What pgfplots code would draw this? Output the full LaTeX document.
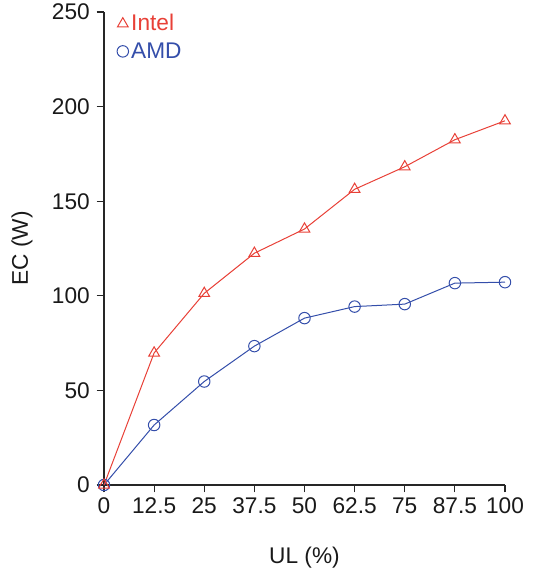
\documentclass[border=0pt]{standalone}
\usepackage{fontspec}
\setmainfont{Liberation Sans}
\usepackage{pgfplots}
\pgfplotsset{compat=1.18}
\definecolor{intelred}{RGB}{232,64,55}
\definecolor{amdblue}{RGB}{52,78,170}
\newcommand{\fs}{\fontsize{17}{20}\selectfont}
\begin{document}
\begin{tikzpicture}
\useasboundingbox (-78pt,-72.75pt) rectangle (321.75pt,363.75pt);
\begin{axis}[
  at={(0,0)}, anchor=south west,
  scale only axis,
  width=300.75pt, height=354.75pt,
  xmin=0, xmax=100, ymin=0, ymax=250,
  axis x line*=bottom, axis y line*=left,
  axis line style={black!85, line width=0.8pt},
  tick style={black!85, line width=0.8pt},
  tick align=outside,
  major tick length=5.5pt,
  xtick={0,12.5,25,37.5,50,62.5,75,87.5,100},
  xticklabels={0,12.5,25,37.5,50,62.5,75,87.5,100},
  ytick={0,50,100,150,200,250},
  yticklabels={0,50,100,150,200,250},
  /pgf/number format/assume math mode=true,
  every tick label/.append style={font=\fs, text=black!90},
  xticklabel style={yshift=-0.8pt},
  yticklabel style={xshift=-1.6pt},
  xlabel={UL (\%)}, ylabel={EC (W)},
  label style={font=\fs, text=black!90},
  xlabel style={at={(axis description cs:0.5,-0.1543)}, anchor=center},
  ylabel style={at={(axis description cs:-0.2045,0.5)}, anchor=center},
  clip=false,
  legend style={draw=none, fill=none, at={(axis cs:3.2,250.2)}, anchor=north west,
    font=\fs, row sep=3.2pt, inner sep=0pt},
  legend cell align=left,
  legend image code/.code={\draw[#1] plot coordinates {(0.12cm,0cm)};},
]
\addlegendimage{only marks, mark=triangle, mark size=4.6pt, color=intelred, mark options={fill=white, line width=0.75pt}}
\addlegendentry{\textcolor{intelred}{Intel}}
\addlegendimage{only marks, mark=o, mark size=4.3pt, color=amdblue, mark options={fill=white, line width=0.75pt}}
\addlegendentry{\textcolor{amdblue}{AMD}}
\addplot[color=amdblue, line width=0.75pt, mark=o, mark size=4.3pt, mark options={fill=white}, forget plot]
  coordinates {(0,0) (12.5,31.7) (25,54.7) (37.5,73.4) (50,88.2) (62.5,94.3) (75,95.6) (87.5,106.7) (100,107.2)};
\addplot[color=intelred, line width=0.75pt, mark=triangle, mark size=4.6pt, mark options={fill=white}, forget plot]
  coordinates {(0,0) (12.5,69.8) (25,101.3) (37.5,122.5) (50,135.3) (62.5,156.3) (75,168.2) (87.5,182.5) (100,192.5)};
\end{axis}
\end{tikzpicture}
\end{document}
